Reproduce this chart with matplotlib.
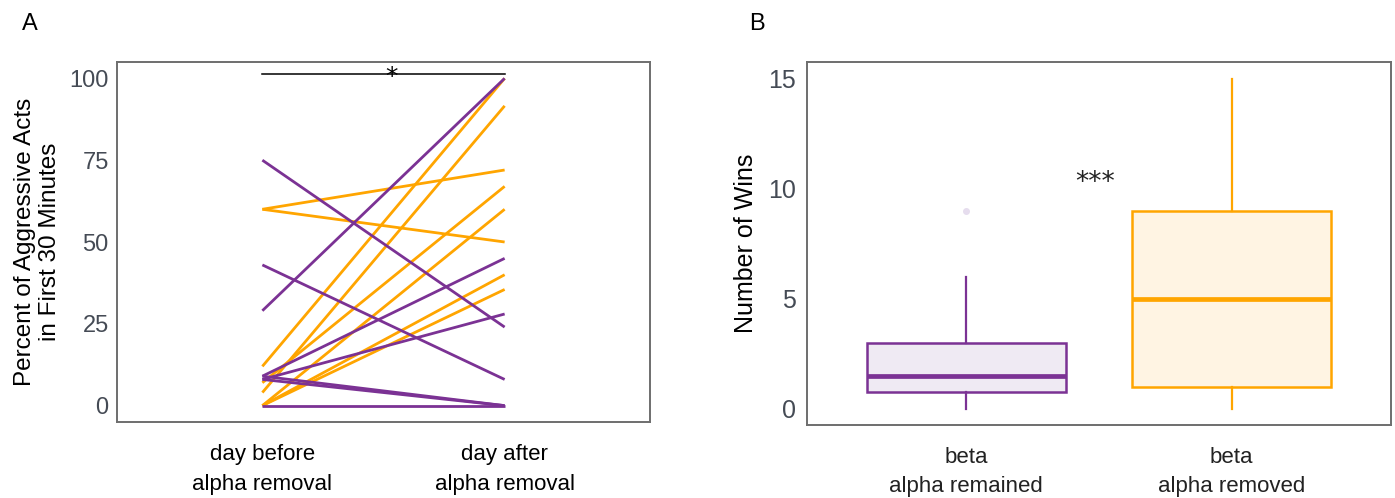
import matplotlib
matplotlib.use("Agg")
import matplotlib.pyplot as plt
from matplotlib import font_manager as fm

# ---------------- data ----------------
# Panel A: paired percentages (before, after)
purple_before = [29, 75, 43, 9, 8, 9, 8, 0]
purple_after = [100, 24, 8, 45, 28, 0, 0, 0]
orange_before = [60, 60, 12, 4, 7, 0, 0, 0]
orange_after = [72, 50, 100, 91.6, 67, 60, 40, 35.5]
a_categories = ["day before\nalpha removal", "day after\nalpha removal"]
a_yticks = [0, 25, 50, 75, 100]
a_sig_level = 101.2

# Panel B: box statistics
b_categories = ["beta\nalpha remained", "beta\nalpha removed"]
b_q1 = [0.75, 1]
b_median = [1.5, 5]
b_q3 = [3, 9]
b_whislo = [0, 0]
b_whishi = [6, 15]
b_fliers = [[9], []]
b_yticks = [0, 5, 10, 15]

PURPLE = "#7B3294"
ORANGE = "#FFA500"
TICKC = "#454B55"

avail = {f.name for f in fm.fontManager.ttflist}
fontA = "Liberation Sans" if "Liberation Sans" in avail else "DejaVu Sans"
fontB = "Liberation Sans Narrow" if "Liberation Sans Narrow" in avail else fontA
plt.rcParams['font.family'] = [fontA, 'DejaVu Sans']

W, H = 1395, 498
fig = plt.figure(figsize=(W / 100, H / 100), dpi=100)

def px_axes(x0, y0, x1, y1):
    return fig.add_axes([x0 / W, 1 - y1 / H, (x1 - x0) / W, (y1 - y0) / H])

# ---------------- Panel A ----------------
axA = px_axes(117, 62, 650, 422)
for b, a in zip(orange_before, orange_after):
    axA.plot([1, 2], [b, a], color=ORANGE, lw=2.0, solid_capstyle='butt')
for b, a in zip(purple_before, purple_after):
    axA.plot([1, 2], [b, a], color=PURPLE, lw=2.0, solid_capstyle='butt')
axA.plot([1, 2], [a_sig_level, a_sig_level], color='black', lw=1.1)
axA.text(1.535, a_sig_level - 2.8, "*", ha='center', va='baseline', fontsize=18,
         color='black', family='DejaVu Sans')
axA.set_xlim(0.4, 2.6)
axA.set_ylim(-5, 105)
axA.set_xticks([1, 2])
axA.set_xticklabels(a_categories, fontsize=16, linespacing=1.55)
axA.set_yticks(a_yticks)
axA.set_yticklabels([str(v) for v in a_yticks], fontsize=17, color=TICKC)
axA.tick_params(length=0, pad=6)
axA.tick_params(axis='x', pad=16)
axA.set_ylabel("Percent of Aggressive Acts\nin First 30 Minutes", fontsize=17.5,
               labelpad=6, linespacing=1.15)
for s in axA.spines.values():
    s.set_color('#6E6E6E')
    s.set_linewidth(1.4)
fig.text(30 / W, 1 - 24 / H, "A", fontsize=17, ha='center', va='center')

# ---------------- Panel B ----------------
axB = px_axes(807, 62, 1391, 425)
fills = ["#EFEAF3", "#FFF4E3"]
cols = [PURPLE, ORANGE]
for i in range(2):
    stats = [dict(med=b_median[i], q1=b_q1[i], q3=b_q3[i], whislo=b_whislo[i],
                  whishi=b_whishi[i], fliers=b_fliers[i], label=b_categories[i])]
    axB.bxp(stats, positions=[i + 1], widths=0.75, patch_artist=True,
            showcaps=False,
            boxprops=dict(facecolor=fills[i], edgecolor=cols[i], linewidth=1.8),
            medianprops=dict(color=cols[i], linewidth=3.4),
            whiskerprops=dict(color=cols[i], linewidth=1.6),
            flierprops=dict(marker='o', markersize=4, markerfacecolor='#E6DDEE',
                            markeredgecolor='#E6DDEE'))
axB.text(1.485, 10.25, "***", ha='center', va='center', fontsize=19, color='#222222',
         family='DejaVu Sans')
axB.set_xlim(0.4, 2.6)
axB.set_ylim(-0.75, 15.75)
axB.set_xticks([1, 2])
axB.set_xticklabels(b_categories, fontsize=16, linespacing=1.5, family=[fontB, 'DejaVu Sans'],
                    color='#222222')
axB.set_yticks(b_yticks)
axB.set_yticklabels([str(v) for v in b_yticks], fontsize=18, color=TICKC,
                    family=[fontB, 'DejaVu Sans'])
axB.tick_params(length=0, pad=8)
axB.tick_params(axis='x', pad=16)
axB.set_ylabel("Number of Wins", fontsize=18, labelpad=7)
for s in axB.spines.values():
    s.set_color('#6E6E6E')
    s.set_linewidth(1.4)
fig.text(757 / W, 1 - 24 / H, "B", fontsize=17, ha='center', va='center')

fig.savefig("out.png", dpi=100)
